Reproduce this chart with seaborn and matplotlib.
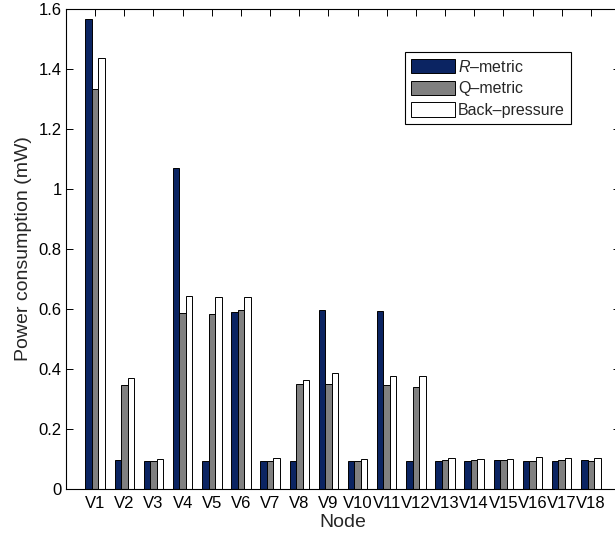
import numpy as np
import pandas as pd
import matplotlib
matplotlib.use("Agg")
import matplotlib.pyplot as plt
import seaborn as sns

# Per-node power consumption (mW) for the three routing schemes
nodes = [f"V{i}" for i in range(1, 19)]
r_metric = [1.567, 0.097, 0.092, 1.071, 0.092, 0.590, 0.094, 0.094, 0.597,
            0.094, 0.594, 0.094, 0.094, 0.093, 0.097, 0.094, 0.094, 0.098]
q_metric = [1.333, 0.348, 0.094, 0.586, 0.583, 0.597, 0.093, 0.351, 0.349,
            0.094, 0.346, 0.341, 0.097, 0.097, 0.097, 0.094, 0.096, 0.094]
back_pressure = [1.438, 0.370, 0.100, 0.644, 0.639, 0.640, 0.102, 0.364, 0.388,
                 0.100, 0.376, 0.378, 0.103, 0.100, 0.099, 0.108, 0.102, 0.104]
schemes = ["R-metric", "Q-metric", "Back-pressure"]
legend_labels = ["$R$\u2013metric", "Q\u2013metric", "Back\u2013pressure"]
yticks = [0, 0.2, 0.4, 0.6, 0.8, 1.0, 1.2, 1.4, 1.6]

df = pd.DataFrame({
    "Node": nodes * 3,
    "Scheme": [schemes[0]] * 18 + [schemes[1]] * 18 + [schemes[2]] * 18,
    "Power": r_metric + q_metric + back_pressure,
})

sns.set_theme(style="white")
plt.rcParams["font.family"] = ["Liberation Sans", "DejaVu Sans"]
plt.rcParams["mathtext.fontset"] = "custom"
plt.rcParams["mathtext.it"] = "Liberation Sans:italic"
plt.rcParams["mathtext.rm"] = "Liberation Sans"

W, H = 615, 537
fig = plt.figure(figsize=(W / 100, H / 100), dpi=100)
ax = fig.add_axes([66 / W, (H - 489) / H, (620 - 66) / W, (489 - 9) / H])

palette = ["#0b2462", "#808080", "#ffffff"]
sns.barplot(data=df, x="Node", y="Power", hue="Scheme", hue_order=schemes,
            palette=palette, width=0.667, edgecolor="black", linewidth=0.7,
            saturation=1, ax=ax, errorbar=None)

ax.set_xlim(-1, 18)
ax.set_ylim(0, 1.6)
ax.set_yticks(yticks)
ax.set_yticklabels([f"{v:g}" for v in yticks])
ax.set_xlabel("Node", fontsize=14, labelpad=2)
ax.set_ylabel("Power consumption (mW)", fontsize=14, labelpad=5)

ax.tick_params(axis="both", direction="in", length=5, width=0.7, colors="black",
               labelsize=12, top=True, right=True, bottom=True, left=True)
ax.tick_params(axis="x", pad=5)
ax.tick_params(axis="y", pad=3)
for s in ax.spines.values():
    s.set_visible(True)
    s.set_color("black")
    s.set_linewidth(0.8)

handles, _ = ax.get_legend_handles_labels()
leg = ax.legend(handles, legend_labels, loc="upper right",
                bbox_to_anchor=(0.9116, 0.910), borderaxespad=0,
                fontsize=11.5, frameon=True, fancybox=False, framealpha=1,
                edgecolor="black", handlelength=2.75, handleheight=1.0,
                handletextpad=0.15, labelspacing=0.38, borderpad=0.4)
leg.get_frame().set_linewidth(0.8)

fig.savefig("out.png", dpi=100)
